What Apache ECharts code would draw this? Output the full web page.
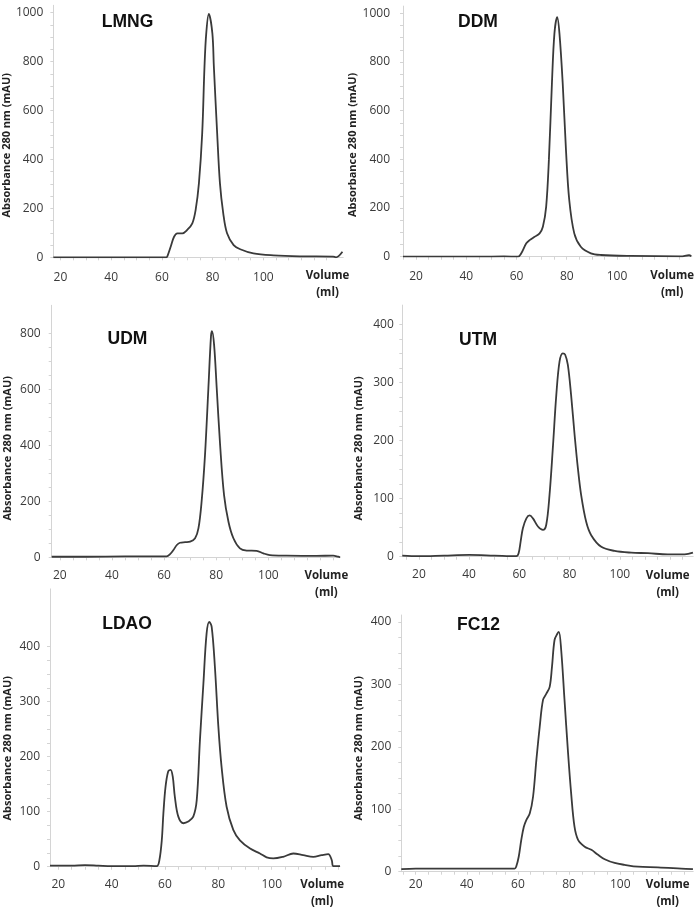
<!DOCTYPE html>
<html>
<head>
<meta charset="utf-8">
<script src="https://cdn.jsdelivr.net/npm/echarts@6/dist/echarts.min.js"></script>
<style>
html,body{margin:0;padding:0;background:#fff;}
#chart{width:696px;height:910px;}
</style>
</head>
<body>
<div id="chart"></div>
<script>
// ---- data (volume in ml, absorbance in mAU) ----
const detergents = ['LMNG', 'DDM', 'UDM', 'UTM', 'LDAO', 'FC12'];
const volumeTicks = [20, 40, 60, 80, 100];

const lmngVolume = [17.2, 30, 45, 55, 61.8, 62.2, 63.5, 64.8, 66.1, 68.1, 70.0, 72.0, 73.3, 74.6, 75.9, 76.8, 77.5, 78.5, 79.9, 80.5, 81.8, 82.9, 84.2, 85.7, 88.3, 90.9, 96.1, 104.0, 114.4, 127.5, 128.6, 131.2];
const lmngAbs    = [0, 0, 0, 0, 0, 5, 44, 84, 98, 98, 112, 139, 193, 302, 507, 779, 916, 995, 916, 779, 507, 302, 180, 98, 50, 33, 16, 8, 4, 3, 0, 23];
const lmngYTicks = [0, 200, 400, 600, 800, 1000];

const ddmVolume = [14.8, 30, 45, 55, 60.6, 61.9, 63.9, 65.2, 67.2, 69.2, 70.5, 71.8, 72.9, 74.1, 75.1, 76.2, 77.1, 78.4, 79.7, 81.0, 83.0, 85.6, 89.6, 93.6, 105.5, 125.4, 128.7, 129.6];
const ddmAbs    = [0, 0, 0, 1, 0, 14, 55, 68, 82, 96, 123, 205, 400, 712, 918, 985, 918, 712, 438, 233, 96, 41, 14, 7, 3, 1, 6, 2];
const ddmYTicks = [0, 200, 400, 600, 800, 1000];

const udmVolume = [16.9, 30, 45, 55, 61.0, 62.3, 63.6, 64.9, 66.1, 68.1, 70.0, 71.9, 73.2, 74.4, 75.7, 77.0, 78.0, 78.4, 79.2, 80.2, 81.5, 83.0, 84.7, 86.6, 89.1, 91.7, 95.5, 98.1, 100.6, 107.0, 118.5, 124.9, 126.8, 127.5];
const udmAbs    = [2, 2, 3, 3, 3, 11, 26, 44, 52, 54, 56, 68, 104, 199, 365, 604, 790, 808, 758, 604, 401, 223, 127, 68, 32, 24, 23, 14, 8, 6, 5, 6, 2, 0];
const udmYTicks = [0, 200, 400, 600, 800];

const utmVolume = [13.4, 20, 30, 40, 50, 58.8, 59.7, 60.5, 61.4, 62.8, 64.1, 65.4, 67.4, 69.4, 70.7, 72.0, 73.4, 74.7, 76.0, 77.3, 78.2, 79.3, 80.6, 82.0, 83.3, 84.6, 86.6, 88.6, 92.6, 97.9, 104.5, 111.2, 119.1, 125.8, 129.1];
const utmAbs    = [2, 1, 2, 3, 2, 1, 6, 26, 49, 66, 71, 66, 52, 46, 55, 106, 192, 278, 336, 350, 348, 330, 278, 209, 152, 106, 60, 37, 17, 10, 7, 6, 4, 4, 7];
const utmYTicks = [0, 100, 200, 300, 400];

const ldaoVolume = [16.9, 25, 30, 35, 40, 48, 52, 56.9, 57.9, 58.8, 59.4, 60.2, 61.2, 62.1, 62.9, 63.7, 65.0, 66.9, 68.7, 70.6, 71.9, 73.1, 74.4, 75.6, 76.6, 77.5, 78.7, 80.0, 81.2, 83.1, 85.6, 88.1, 91.9, 95.6, 98.1, 100.6, 104.3, 108.1, 111.8, 115.6, 118.7, 121.2, 122.5, 123.1, 125.6];
const ldaoAbs    = [2, 2, 3, 2, 1, 1, 2, 1, 12, 48, 97, 145, 173, 176, 164, 127, 91, 79, 82, 91, 121, 230, 333, 424, 445, 436, 364, 255, 182, 109, 67, 48, 33, 24, 17, 15, 18, 24, 21, 18, 21, 23, 12, 1, 1];
const ldaoYTicks = [0, 100, 200, 300, 400];

const fc12Volume = [14.4, 20, 30, 40, 50, 58.7, 59.3, 60.3, 61.3, 62.3, 63.3, 64.6, 65.9, 67.2, 68.5, 69.8, 71.1, 72.4, 73.3, 74.3, 75.4, 76.0, 76.9, 78.2, 79.5, 80.8, 82.1, 83.5, 86.1, 88.7, 91.3, 93.9, 97.8, 101.7, 106.9, 114.7, 123.8, 128.4];
const fc12Abs    = [4, 5, 5, 5, 5, 5, 8, 24, 51, 72, 83, 93, 120, 179, 232, 275, 285, 296, 328, 371, 381, 384, 355, 275, 195, 125, 72, 51, 40, 35, 27, 20, 14, 11, 8, 7, 5, 4];
const fc12YTicks = [0, 100, 200, 300, 400];

const yAxisTitle = 'Absorbance 280 nm (mAU)';
const xAxisTitle = 'Volume\n(ml)';

// ---- layout (pixels / axis ranges) ----
const panels = [
  {name: detergents[0], vol: lmngVolume, abs: lmngAbs, yTicks: lmngYTicks,
   left: 52, top: 5.3, width: 291.2, height: 252, xMin: 17.2, xMax: 131.5, yMax: 1030,
   yLabMargin: 10, xLabMargin: 13.5, yNameGap: 43.3, yNameShift: 28, volGap: -15.7, volPad: 10.5, tx: 127.5, ty: 22},
  {name: detergents[1], vol: ddmVolume, abs: ddmAbs, yTicks: ddmYTicks,
   left: 403, top: 6.1, width: 288.8, height: 250.6, xMin: 14.8, xMax: 129.8, yMax: 1030,
   yLabMargin: 13, xLabMargin: 13.3, yNameGap: 44, yNameShift: 27, volGap: -19.6, volPad: 11, tx: 478, ty: 22},
  {name: detergents[2], vol: udmVolume, abs: udmAbs, yTicks: udmYTicks,
   left: 51.7, top: 305.3, width: 288.6, height: 252, xMin: 16.9, xMax: 127.6, yMax: 900,
   yLabMargin: 11, xLabMargin: 11.7, yNameGap: 43.4, yNameShift: 34, volGap: -14, volPad: 10.5, tx: 127.5, ty: 339},
  {name: detergents[3], vol: utmVolume, abs: utmAbs, yTicks: utmYTicks,
   left: 402.3, top: 305.1, width: 290.9, height: 251.6, xMin: 13.4, xMax: 129.2, yMax: 433,
   yLabMargin: 8.5, xLabMargin: 11.3, yNameGap: 43.3, yNameShift: 35, volGap: -25.5, volPad: 11, tx: 478, ty: 340},
  {name: detergents[4], vol: ldaoVolume, abs: ldaoAbs, yTicks: ldaoYTicks,
   left: 50, top: 588.9, width: 290, height: 277.8, xMin: 16.9, xMax: 125.6, yMax: 505,
   yLabMargin: 10, xLabMargin: 11.3, yNameGap: 41.7, yNameShift: 41, volGap: -17.8, volPad: 10, tx: 127, ty: 624.5},
  {name: detergents[5], vol: fc12Volume, abs: fc12Abs, yTicks: fc12YTicks,
   left: 401.3, top: 615, width: 291.9, height: 256.7, xMin: 14.4, xMax: 128.5, yMax: 411,
   yLabMargin: 10, xLabMargin: 6.3, yNameGap: 42.3, yNameShift: 10, volGap: -25.5, volPad: 5, tx: 478.5, ty: 625}
];

const labelFont = '"Open Sans", "Liberation Sans", sans-serif';
const axisGray = '#d4d4d4';
const textColor = '#3a3a3a';

const option = {
  backgroundColor: '#ffffff',
  animation: false,
  title: [], grid: [], xAxis: [], yAxis: [], series: []
};

function minorTicks(maxLabel, step) {
  const arr = [];
  for (let v = 0; v <= maxLabel + 1e-9; v += step) arr.push(v);
  return arr;
}

panels.forEach((p, i) => {
  option.title.push({
    text: p.name, left: p.tx, top: p.ty, textAlign: 'center', textVerticalAlign: 'middle', padding: 0,
    textStyle: {fontFamily: '"Liberation Sans", Arial, sans-serif', fontWeight: 'bold', fontSize: 17.5, color: '#111'}
  });
  option.grid.push({left: p.left, top: p.top, width: p.width, height: p.height, containLabel: false});
  const yStep = p.yTicks[1] - p.yTicks[0];
  option.xAxis.push({
    type: 'value', gridIndex: i, min: p.xMin, max: p.xMax,
    axisLine: {show: true, onZero: false, lineStyle: {color: axisGray, width: 1}},
    axisTick: {show: true, length: 3, lineStyle: {color: axisGray}, customValues: minorTicks(125, 5).filter(v => v >= p.xMin && v <= p.xMax)},
    axisLabel: {customValues: volumeTicks, margin: p.xLabMargin, fontFamily: labelFont, fontSize: 12, lineHeight: 14, color: textColor,
      formatter: v => String(v)},
    splitLine: {show: false},
    name: xAxisTitle, nameLocation: 'end', nameGap: p.volGap,
    nameTextStyle: {align: 'center', verticalAlign: 'top', padding: [p.volPad, 0, 0, 0], lineHeight: 16.5,
      fontFamily: labelFont, fontWeight: 'bold', fontSize: 11.5, color: '#222'}
  });
  option.yAxis.push({
    type: 'value', gridIndex: i, min: 0, max: p.yMax,
    axisLine: {show: true, lineStyle: {color: axisGray, width: 1}},
    axisTick: {show: true, length: 3, lineStyle: {color: axisGray}, customValues: minorTicks(p.yTicks[p.yTicks.length - 1], yStep / 4)},
    axisLabel: {customValues: p.yTicks, margin: p.yLabMargin, fontFamily: labelFont, fontSize: 12, color: textColor,
      formatter: v => String(v)},
    splitLine: {show: false},
    name: yAxisTitle, nameLocation: 'middle', nameGap: p.yNameGap,
    nameTextStyle: {verticalAlign: 'middle', align: 'center', padding: [0, p.yNameShift, 0, 0],
      fontFamily: labelFont, fontWeight: 'bold', fontSize: 11, color: '#222'}
  });
  option.series.push({
    type: 'line', xAxisIndex: i, yAxisIndex: i,
    data: p.vol.map((v, k) => [v, p.abs[k]]),
    showSymbol: false, smooth: 0.35,
    lineStyle: {color: '#3a3a3a', width: 1.8},
    silent: true
  });
});

const chart = echarts.init(document.getElementById('chart'), null, {renderer: 'canvas'});
chart.setOption(option);
</script>
</body>
</html>
